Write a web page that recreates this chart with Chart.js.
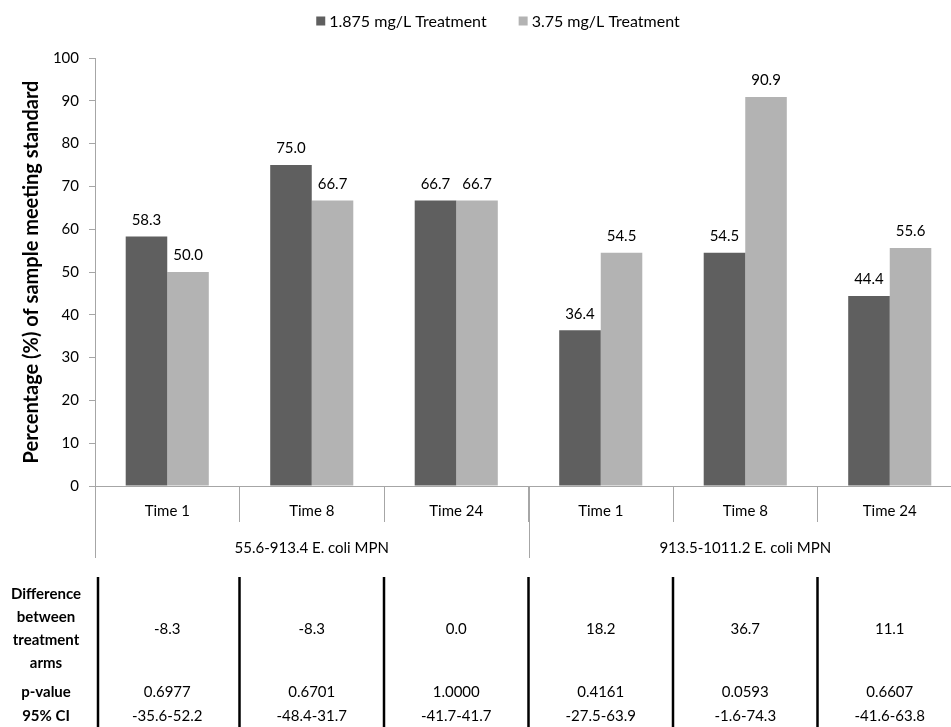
<!DOCTYPE html>
<html>
<head>
<meta charset="utf-8">
<script src="https://cdn.jsdelivr.net/npm/chart.js@4.4.0/dist/chart.umd.min.js"></script>
<style>
  html, body { margin: 0; padding: 0; background: #fff; overflow: hidden; }
</style>
</head>
<body>
<canvas id="chart" width="970" height="727"></canvas>
<script>
const timeLabels = ['Time 1', 'Time 8', 'Time 24', 'Time 1', 'Time 8', 'Time 24'];
const groupLabels = ['55.6-913.4 E. coli MPN', '913.5-1011.2 E. coli MPN'];
const groupSizes = [3, 3];
const seriesNames = ['1.875 mg/L Treatment', '3.75 mg/L Treatment'];
const lowDose = [58.3, 75.0, 66.7, 36.4, 54.5, 44.4];
const highDose = [50.0, 66.7, 66.7, 54.5, 90.9, 55.6];
const rowNames = [['Difference', 'between', 'treatment', 'arms'], ['p-value'], ['95% CI']];
const diffValues = ['-8.3', '-8.3', '0.0', '18.2', '36.7', '11.1'];
const pValues = ['0.6977', '0.6701', '1.0000', '0.4161', '0.0593', '0.6607'];
const ciValues = ['-35.6-52.2', '-48.4-31.7', '-41.7-41.7', '-27.5-63.9', '-1.6-74.3', '-41.6-63.8'];

const FONT = 'Lato, "Open Sans", sans-serif';
const AXIS_GREY = '#a6a6a6';

// value labels on top of each bar
const barLabels = {
    id: 'barLabels',
    afterDatasetsDraw(chart) {
        const ctx = chart.ctx;
        ctx.save();
        ctx.font = '15px ' + FONT;
        ctx.fillStyle = '#000';
        ctx.textAlign = 'center';
        ctx.textBaseline = 'bottom';
        chart.data.datasets.forEach((ds, i) => {
            chart.getDatasetMeta(i).data.forEach((bar, j) => {
                ctx.fillText(ds.data[j].toFixed(1), bar.x, bar.y - 9);
            });
        });
        ctx.restore();
    }
};

// legend on top, small squares like the original
const topLegend = {
    id: 'topLegend',
    afterDraw(chart) {
        const ctx = chart.ctx;
        ctx.save();
        ctx.font = '16px ' + FONT;
        ctx.textBaseline = 'middle';
        const box = 9, gap = 4, between = 32;
        const widths = seriesNames.map(n => box + gap + ctx.measureText(n).width);
        const total = widths.reduce((a, b) => a + b, 0) + between;
        let x = 498 - total / 2;
        const y = 21;
        chart.data.datasets.forEach((ds, i) => {
            ctx.fillStyle = ds.backgroundColor;
            ctx.fillRect(x, y - box / 2, box, box);
            ctx.fillStyle = '#000';
            ctx.textAlign = 'left';
            ctx.fillText(seriesNames[i], x + box + gap, y + 1);
            x += widths[i] + between;
        });
        ctx.restore();
    }
};

// group axis row and the stats table underneath
const lowerTable = {
    id: 'lowerTable',
    afterDraw(chart) {
        const ctx = chart.ctx;
        const xs = chart.scales.x;
        const area = chart.chartArea;
        const catW = xs.getPixelForValue(1) - xs.getPixelForValue(0);
        const edge = i => xs.getPixelForValue(i) - catW / 2;
        ctx.save();

        // group dividers
        ctx.strokeStyle = AXIS_GREY;
        ctx.lineWidth = 1;
        let start = 0;
        const groupEdges = [0];
        groupSizes.forEach(n => { start += n; groupEdges.push(start); });
        groupEdges.forEach(i => {
            const x = Math.round(edge(i)) + 0.5;
            ctx.beginPath();
            ctx.moveTo(x, area.bottom);
            ctx.lineTo(x, area.bottom + 72);
            ctx.stroke();
        });

        ctx.font = '15px ' + FONT;
        ctx.fillStyle = '#000';
        ctx.textAlign = 'center';
        ctx.textBaseline = 'middle';
        start = 0;
        groupSizes.forEach((n, g) => {
            const cx = (edge(start) + edge(start + n)) / 2;
            ctx.fillText(groupLabels[g], cx, area.bottom + 62);
            start += n;
        });

        // table column rules
        ctx.strokeStyle = '#000';
        ctx.lineWidth = 2.5;
        for (let i = 0; i < timeLabels.length; i++) {
            const x = i === 0 ? edge(0) + 3 : edge(i);
            ctx.beginPath();
            ctx.moveTo(x, 577);
            ctx.lineTo(x, 727);
            ctx.stroke();
        }

        // table values
        timeLabels.forEach((t, i) => {
            const cx = xs.getPixelForValue(i);
            ctx.fillText(diffValues[i], cx, 629);
            ctx.fillText(pValues[i], cx, 692);
            ctx.fillText(ciValues[i], cx, 716);
        });

        // row headings
        ctx.font = 'bold 15px ' + FONT;
        const headY = [[594, 617, 640, 663], [692], [716]];
        rowNames.forEach((lines, r) => {
            lines.forEach((line, k) => ctx.fillText(line, 46, headY[r][k]));
        });
        ctx.restore();
    }
};

new Chart(document.getElementById('chart'), {
    type: 'bar',
    data: {
        labels: timeLabels,
        datasets: [
            { label: seriesNames[0], data: lowDose, backgroundColor: '#5f5f5f' },
            { label: seriesNames[1], data: highDose, backgroundColor: '#b3b3b3' }
        ]
    },
    options: {
        responsive: false,
        animation: false,
        categoryPercentage: 0.575,
        barPercentage: 1.0,
        layout: { padding: { top: 58, right: 8, left: 0, bottom: 0 } },
        plugins: {
            legend: { display: false },
            tooltip: { enabled: false }
        },
        scales: {
            x: {
                grid: { offset: true, drawOnChartArea: false, color: AXIS_GREY, tickLength: 36 },
                border: { color: AXIS_GREY },
                ticks: { font: { family: FONT, size: 15 }, color: '#000', padding: -20, maxRotation: 0 },
                afterFit: s => { s.height = 241; }
            },
            y: {
                min: 0,
                max: 100,
                ticks: { stepSize: 10, font: { family: FONT, size: 15 }, color: '#000', padding: 10 },
                grid: { drawOnChartArea: false, color: AXIS_GREY, tickLength: 6 },
                border: { color: AXIS_GREY },
                title: {
                    display: true,
                    text: 'Percentage (%) of sample meeting standard',
                    font: { family: FONT, size: 20, weight: 'bold' },
                    color: '#000',
                    padding: { top: 20, bottom: 0 }
                },
                afterFit: s => { s.width = 95; }
            }
        }
    },
    plugins: [barLabels, topLegend, lowerTable]
});
</script>
</body>
</html>
